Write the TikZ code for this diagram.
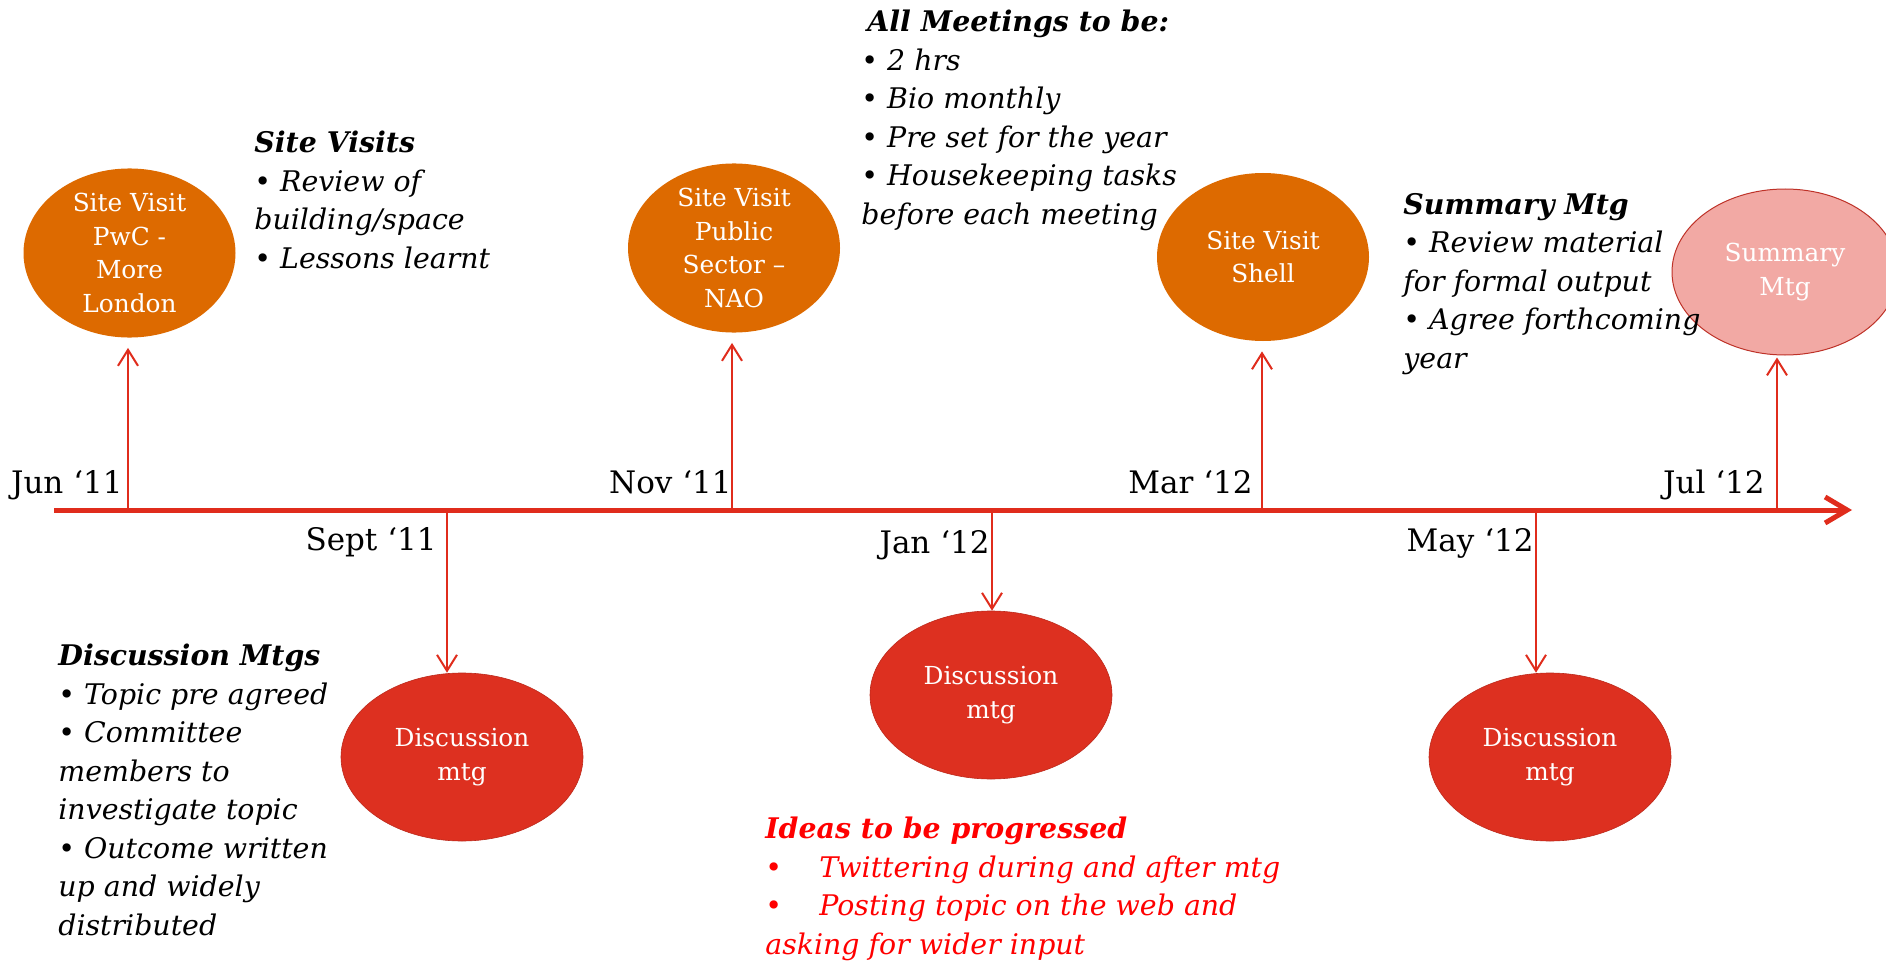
\documentclass[tikz,border=0pt]{standalone}
\usepackage{fontspec}
\setmainfont{DejaVu Serif}
\usepackage{xcolor}
\usetikzlibrary{arrows.meta,positioning,shapes.geometric}

\definecolor{siteorange}{RGB}{221,106,0}
\definecolor{discred}{RGB}{221,48,32}
\definecolor{linered}{RGB}{224,44,28}
\definecolor{sumpink}{RGB}{242,169,164}
\definecolor{sumedge}{RGB}{190,50,40}
\definecolor{ideared}{RGB}{255,0,0}

\tikzset{
	evt/.style={ellipse, inner sep=0pt, text=white, align=center, font=\fontsize{12.4}{16.8}\selectfont},
	visit/.style={evt, fill=siteorange, minimum width=106pt, minimum height=84pt},
	disc/.style={evt, fill=discred, draw=discred!85!black, line width=0.3pt, minimum width=121pt, minimum height=84pt},
	month/.style={font=\fontsize{15.5}{18}\selectfont, inner sep=0pt, anchor=base east},
	note/.style={font=\fontsize{14.2}{19.25}\selectfont\itshape, align=left, inner sep=0pt, anchor=base west},
	linkarrow/.style={linered, line width=1pt, -{Straight Barb[length=8pt,width=10pt]}}
}

\begin{document}
\begin{tikzpicture}[x=0.5pt,y=-0.5pt]
	\useasboundingbox (0,0) rectangle (1886,963);
	\fill[white] (0,0) rectangle (1886,963);
	\clip (0,0) rectangle (1886,963);
	% time line
	\coordinate (start) at (54,510);
	\coordinate (end) at (1852,510);
	\draw[linered, line width=2.5pt, -{Straight Barb[length=11pt,width=13pt]}] (start) -- (end);
	\coordinate (tJun) at (128,510);
	\coordinate (tSep) at (447,510);
	\coordinate (tNov) at (732,510);
	\coordinate (tJan) at (992,510);
	\coordinate (tMar) at (1262,510);
	\coordinate (tMay) at (1536,510);
	\coordinate (tJul) at (1777,510);
	% events
	\node[visit] (pwc) at (129.5,253) {Site Visit\\PwC -\\More\\London};
	\node[visit, minimum height=80pt] (nao) at (734,248) {Site Visit\\Public\\Sector –\\NAO};
	\node[visit] (shell) at (1263,257) {Site Visit\\Shell};
	\node[evt, fill=sumpink, draw=sumedge, line width=0.5pt, minimum width=113pt, minimum height=83pt] (summ) at (1785,272) {Summary\\Mtg};
	\node[disc] (discA) at (462,757) {Discussion\\mtg};
	\node[disc] (discB) at (991,695) {Discussion\\mtg};
	\node[disc] (discC) at (1550,757) {Discussion\\mtg};
	\draw[linkarrow, shorten >=5pt] (tJun) -- (tJun |- pwc.south);
	\draw[linkarrow, shorten >=5pt] (tNov) -- (tNov |- nao.south);
	\draw[linkarrow, shorten >=5pt] (tMar) -- (tMar |- shell.south);
	\draw[linkarrow, shorten >=1pt] (tJul) -- (tJul |- summ.south);
	\draw[linkarrow] (tSep) -- (tSep |- discA.north);
	\draw[linkarrow] (tJan) -- (tJan |- discB.north);
	\draw[linkarrow] (tMay) -- (tMay |- discC.north);
	% months
	\node[month] (lJun) at (123,493) {Jun ‘11};
	\node[month] (lSep) at (437,550) {Sept ‘11};
	\node[month] (lNov) at (732,493) {Nov ‘11};
	\node[month] (lJan) at (990,553) {Jan ‘12};
	\node[month] (lMar) at (1253,493) {Mar ‘12};
	\node[month] (lMay) at (1534,551) {May ‘12};
	\node[month] (lJul) at (1765,493) {Jul ‘12};
	% notes (placed by the baseline of their last line)
	\node[note] (nVisits) at (254,268) {\textbf{Site Visits}\\• Review of\\building/space\\• Lessons learnt};
	\node[note] (nAll) at (861,224) {\hspace{3pt}\textbf{All Meetings to be:}\\• 2 hrs\\• Bio monthly\\• Pre set for the year\\• Housekeeping tasks\\before each meeting};
	\node[note] (nSumm) at (1403,368) {\textbf{Summary Mtg}\\• Review material\\for formal output\\• Agree forthcoming\\year};
	\node[note] (nDisc) at (58,935) {\textbf{Discussion Mtgs}\\• Topic pre agreed\\• Committee\\members to\\investigate topic\\• Outcome written\\up and widely\\distributed};
	\node[note, text=ideared] (nIdeas) at (765,954) {\textbf{Ideas to be progressed}\\\makebox[27pt][l]{\upshape•}Twittering during and after mtg\\\makebox[27pt][l]{\upshape•}Posting topic on the web and\\asking for wider input};
\end{tikzpicture}
\end{document}
